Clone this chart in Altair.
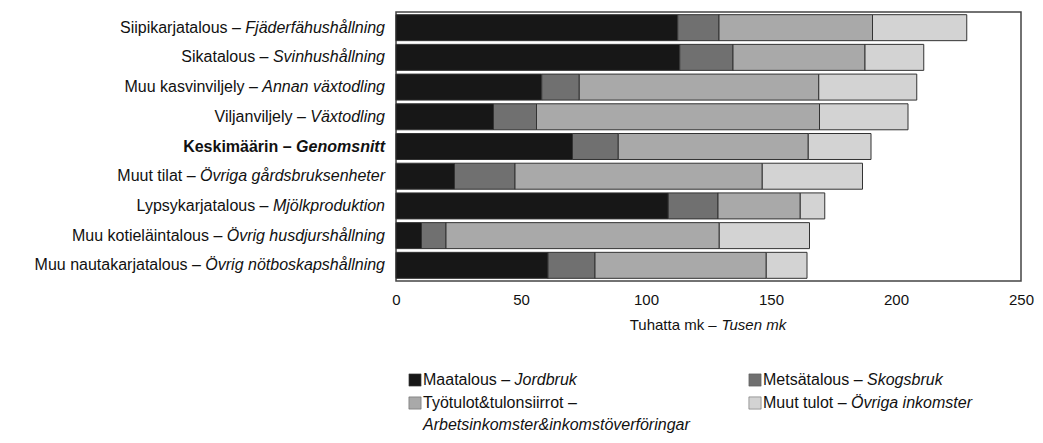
import altair as alt
import pandas as pd

# ---------------- data ----------------
categories = ["Siipikarjatalous", "Sikatalous", "Muu kasvinviljely", "Viljanviljely",
              "Keskimäärin", "Muut tilat", "Lypsykarjatalous", "Muu kotieläintalous",
              "Muu nautakarjatalous"]
swedish = ["Fjäderfähushållning", "Svinhushållning", "Annan växtodling", "Växtodling",
           "Genomsnitt", "Övriga gårdsbruksenheter", "Mjölkproduktion",
           "Övrig husdjurshållning", "Övrig nötboskapshållning"]
bold_rows = ["Keskimäärin"]

series = ["Maatalous", "Metsätalous", "Työtulot&tulonsiirrot", "Muut tulot"]
series_sv = ["Jordbruk", "Skogsbruk", "Arbetsinkomster&inkomstöverföringar", "Övriga inkomster"]
colors = ["#171717", "#707070", "#a9a9a9", "#d3d3d3"]

maatalous = [112.7, 113.5, 58.3, 39.0, 70.6, 23.4, 108.9, 10.2, 60.8]
metsatalous = [16.5, 21.3, 15.0, 17.2, 18.3, 24.2, 19.9, 9.8, 18.8]
tyotulot = [61.4, 52.8, 95.8, 113.2, 76.0, 98.9, 32.9, 109.3, 68.5]
muut_tulot = [37.7, 23.5, 39.2, 35.4, 25.1, 40.1, 9.8, 36.1, 16.3]

x_ticks = [0, 50, 100, 150, 200, 250]
x_title_fi = "Tuhatta mk –"
x_title_sv = "Tusen mk"

# ---------------- layout ----------------
W, H = 625, 269
K = 250 / W          # data units per pixel
FONT = "Liberation Sans"
FS = 16
FS_T = 15
TXT = "#111111"

# Arial / Liberation Sans advance widths (per 1000 em)
REG = {" ": 278, "–": 556, "&": 667}
BOLD = {" ": 278, "–": 556, "&": 722}
for c, w in zip("ABCDEFGHIJKLMNOPQRSTUVWXYZ",
                [667, 667, 722, 722, 667, 611, 778, 722, 278, 500, 667, 556, 833, 722, 778, 667,
                 778, 722, 667, 611, 722, 667, 944, 667, 667, 611]):
    REG[c] = w
for c, w in zip("abcdefghijklmnopqrstuvwxyz",
                [556, 556, 500, 556, 556, 278, 556, 556, 222, 222, 500, 222, 833, 556, 556, 556,
                 556, 333, 500, 278, 556, 500, 722, 500, 500, 500]):
    REG[c] = w
for c, w in zip("ABCDEFGHIJKLMNOPQRSTUVWXYZ",
                [722, 722, 722, 722, 667, 611, 778, 722, 278, 556, 722, 611, 833, 722, 778, 667,
                 778, 722, 667, 611, 722, 667, 944, 667, 667, 611]):
    BOLD[c] = w
for c, w in zip("abcdefghijklmnopqrstuvwxyz",
                [556, 611, 556, 611, 556, 333, 611, 611, 278, 278, 556, 278, 889, 611, 611, 611,
                 611, 389, 556, 333, 611, 556, 778, 556, 556, 500]):
    BOLD[c] = w
REG.update({"ä": 556, "å": 556, "ö": 556, "Ö": 778, "Ä": 667, "Å": 667})
BOLD.update({"ä": 556, "å": 556, "ö": 611, "Ö": 778, "Ä": 722, "Å": 722})


def tw(s, size, bold=False):
    t = BOLD if bold else REG
    return sum(t.get(ch, 556) for ch in s) * size / 1000


# ---------------- tables ----------------
rows = []
for si, (s, vals) in enumerate(zip(series, [maatalous, metsatalous, tyotulot, muut_tulot])):
    for c, v in zip(categories, vals):
        rows.append({"category": c, "series": s, "sidx": si, "value": v})
bars_df = pd.DataFrame(rows)

GAP = 11
lab_rows = []
for c, sv in zip(categories, swedish):
    b = c in bold_rows
    wsv = tw(sv, FS, b)
    wsp = tw(" ", FS, b)
    lab_rows.append({"category": c, "fi": c + " –", "sv": sv, "bold": int(b),
                     "sx": -GAP * K, "fx": -(GAP + wsv + wsp) * K})
lab_df = pd.DataFrame(lab_rows)

LEG_X = [27, 367]
ROW_Y = [368, 391, 413]
leg_rows = []
for i, (fi, sv) in enumerate(zip(series, series_sv)):
    col, row = i % 2, i // 2
    tx = LEG_X[col]
    fi_t = fi + " –"
    if len(fi_t) + len(sv) > 40:
        svx, svrow = tx, 2
    else:
        svx, svrow = tx + tw(fi_t + " ", FS), row
    leg_rows.append({"series": fi, "fi": fi_t, "sv": sv, "row": row, "svrow": svrow,
                     "swx": (tx - 8) * K, "fx": tx * K, "svx": svx * K})
leg_df = pd.DataFrame(leg_rows)

# ---------------- encodings ----------------
xscale = alt.Scale(domain=[0, 250], nice=False, zero=True)
yenc = alt.Y("category:N", sort=categories, axis=None,
             scale=alt.Scale(paddingInner=0.125, paddingOuter=0.09))
color = alt.Color("series:N", scale=alt.Scale(domain=series, range=colors), legend=None)

bars = alt.Chart(bars_df).mark_bar(stroke="#333333", strokeWidth=1).encode(
    x=alt.X("value:Q", stack="zero", scale=xscale, title=None,
            axis=alt.Axis(values=x_ticks, grid=False, ticks=False, tickSize=0, domain=False,
                          labelFont=FONT, labelFontSize=FS_T, labelColor=TXT,
                          labelPadding=11, labelFlush=False, title=None)),
    y=yenc,
    color=color,
    order=alt.Order("sidx:Q"),
)

layers = [bars]
for b in [0, 1]:
    weight = "bold" if b else "normal"
    layers.append(
        alt.Chart(lab_df).transform_filter(alt.datum.bold == b).mark_text(
            align="right", baseline="middle", font=FONT, fontSize=FS, color=TXT,
            fontWeight=weight).encode(
            x=alt.X("fx:Q", scale=xscale, title=None), y=yenc, text="fi:N"))
    layers.append(
        alt.Chart(lab_df).transform_filter(alt.datum.bold == b).mark_text(
            align="right", baseline="middle", font=FONT, fontSize=FS, color=TXT,
            fontWeight=weight, fontStyle="italic").encode(
            x=alt.X("sx:Q", scale=xscale, title=None), y=yenc, text="sv:N"))

# axis title
w1 = tw(x_title_fi + " ", FS_T)
w2 = tw(x_title_sv, FS_T)
start = W / 2 - (w1 + w2) / 2
layers.append(alt.Chart(pd.DataFrame({"t": [x_title_fi]})).mark_text(
    align="left", baseline="middle", font=FONT, fontSize=FS_T, color=TXT).encode(
    x=alt.XDatum(start * K, title=None), y=alt.value(313), text="t:N"))
layers.append(alt.Chart(pd.DataFrame({"t": [x_title_sv]})).mark_text(
    align="left", baseline="middle", font=FONT, fontSize=FS_T, color=TXT,
    fontStyle="italic").encode(
    x=alt.XDatum((start + w1) * K, title=None), y=alt.value(313), text="t:N"))

# legend
for r in [0, 1]:
    layers.append(alt.Chart(leg_df).transform_filter(alt.datum.row == r).mark_square(
        size=150, stroke="#555555", strokeWidth=0.5, opacity=1).encode(
        x=alt.X("swx:Q", scale=xscale, title=None), y=alt.value(ROW_Y[r]), color=color))
    layers.append(alt.Chart(leg_df).transform_filter(alt.datum.row == r).mark_text(
        align="left", baseline="middle", font=FONT, fontSize=FS, color=TXT).encode(
        x=alt.X("fx:Q", scale=xscale, title=None), y=alt.value(ROW_Y[r]), text="fi:N"))
for r in [0, 1, 2]:
    layers.append(alt.Chart(leg_df).transform_filter(alt.datum.svrow == r).mark_text(
        align="left", baseline="middle", font=FONT, fontSize=FS, color=TXT,
        fontStyle="italic").encode(
        x=alt.X("svx:Q", scale=xscale, title=None), y=alt.value(ROW_Y[r]), text="sv:N"))

chart = alt.layer(*layers).properties(
    width=W, height=H,
    autosize=alt.AutoSizeParams(type="none"),
    padding={"left": 388, "top": 4, "right": 14, "bottom": 154},
).configure_view(stroke="#444444", strokeWidth=1.5)

chart.save("out.html", embed_options={"renderer": "svg", "actions": False})
